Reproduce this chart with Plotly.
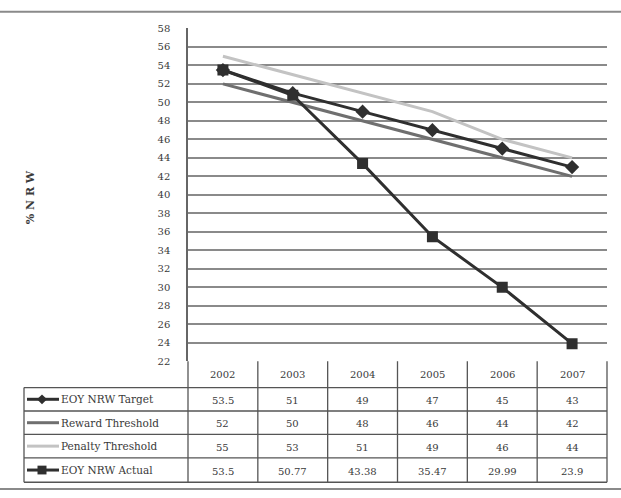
import plotly.graph_objects as go

years = ["2002", "2003", "2004", "2005", "2006", "2007"]
target = [53.5, 51, 49, 47, 45, 43]
reward = [52, 50, 48, 46, 44, 42]
penalty = [55, 53, 51, 49, 46, 44]
actual = [53.5, 50.77, 43.38, 35.47, 29.99, 23.9]
actual_labels = ["53.5", "50.77", "43.38", "35.47", "29.99", "23.9"]
series_names = ["EOY NRW Target", "Reward Threshold", "Penalty Threshold", "EOY NRW Actual"]
y_ticks = list(range(22, 59, 2))

W, H = 621, 498
FONT = "DejaVu Serif"
GRID = "#8a8a8a"
TXT = "#3a3a3a"

c_target = "#2f2f2f"
c_reward = "#6f6f6f"
c_penalty = "#c3c3c3"
c_actual = "#2f2f2f"

def px(x):
    return x / W

def py(y):
    return 1 - y / H

plot_l, plot_r = 188, 607
plot_t, plot_b = 23, 364
row_edges = [364, 391, 415, 439, 463, 488]
label_l = 24

fig = go.Figure()
fig.add_trace(go.Scatter(x=years, y=target, name=series_names[0], mode="lines+markers",
                         line=dict(color=c_target, width=3),
                         marker=dict(symbol="diamond", size=11, color=c_target)))
fig.add_trace(go.Scatter(x=years, y=reward, name=series_names[1], mode="lines",
                         line=dict(color=c_reward, width=3)))
fig.add_trace(go.Scatter(x=years, y=penalty, name=series_names[2], mode="lines",
                         line=dict(color=c_penalty, width=3)))
fig.add_trace(go.Scatter(x=years, y=actual, name=series_names[3], mode="lines+markers",
                         line=dict(color=c_actual, width=3),
                         marker=dict(symbol="square", size=11, color=c_actual)))

key_x = 42
key_rows = [(row_edges[i + 1] + row_edges[i + 2]) / 2 for i in range(4)]

shapes = []
shapes.append(dict(type="line", xref="paper", yref="paper", x0=0, x1=1, y0=py(6), y1=py(6),
                   line=dict(color=GRID, width=2)))
shapes.append(dict(type="line", xref="paper", yref="paper", x0=0, x1=1, y0=py(495), y1=py(495),
                   line=dict(color=GRID, width=2)))

ncol = len(years)
colw = (plot_r - plot_l) / ncol
tl = dict(color="#555555", width=1.3)
for i, ry in enumerate(row_edges):
    if i == 0:
        continue
    shapes.append(dict(type="line", xref="paper", yref="paper", x0=px(label_l), x1=px(plot_r),
                       y0=py(ry), y1=py(ry), line=tl))
for k in range(ncol + 1):
    xx = plot_l + k * colw
    shapes.append(dict(type="line", xref="paper", yref="paper", x0=px(xx), x1=px(xx),
                       y0=py(row_edges[0]), y1=py(row_edges[-1]), line=tl))
shapes.append(dict(type="line", xref="paper", yref="paper", x0=px(label_l), x1=px(label_l),
                   y0=py(row_edges[1]), y1=py(row_edges[-1]), line=tl))
key_colors = [c_target, c_reward, c_penalty, c_actual]
for i, kc in enumerate(key_colors):
    yy = key_rows[i]
    shapes.append(dict(type="line", xref="paper", yref="paper", x0=px(27), x1=px(59),
                       y0=py(yy), y1=py(yy), line=dict(color=kc, width=3)))
d = 5
yy = key_rows[0]
shapes.append(dict(type="path", xref="paper", yref="paper",
                   path=f"M {px(key_x - d)} {py(yy)} L {px(key_x)} {py(yy - d)} L {px(key_x + d)} {py(yy)} L {px(key_x)} {py(yy + d)} Z",
                   fillcolor=c_target, line=dict(width=0)))
yy = key_rows[3]
s = 4.5
shapes.append(dict(type="rect", xref="paper", yref="paper",
                   x0=px(key_x - s), x1=px(key_x + s), y0=py(yy + s), y1=py(yy - s),
                   fillcolor=c_actual, line=dict(width=0)))

annotations = []
for k, yr in enumerate(years):
    cx = plot_l + (k + 0.5) * colw
    annotations.append(dict(x=px(cx), y=py((row_edges[0] + row_edges[1]) / 2), xref="paper", yref="paper",
                            xanchor="center", yanchor="middle",
                            text=yr, showarrow=False, font=dict(family=FONT, size=10, color=TXT)))
values = [[f"{v:g}" for v in target], [f"{v:g}" for v in reward], [f"{v:g}" for v in penalty], actual_labels]
for i, name in enumerate(series_names):
    yy = key_rows[i]
    annotations.append(dict(x=px(59), y=py(yy), xref="paper", yref="paper", xanchor="left", yanchor="middle",
                            text=name, showarrow=False, font=dict(family=FONT, size=10.5, color=TXT)))
    for k in range(ncol):
        cx = plot_l + (k + 0.5) * colw
        annotations.append(dict(x=px(cx), y=py(yy + 1), xref="paper", yref="paper",
                                xanchor="center", yanchor="middle",
                                text=values[i][k], showarrow=False, font=dict(family=FONT, size=10, color=TXT)))
annotations.append(dict(x=px(30), y=py(196), xref="paper", yref="paper", text="<b>% N R W</b>",
                        xanchor="center", yanchor="middle",
                        textangle=-90, showarrow=False, font=dict(family=FONT, size=11, color=TXT)))

fig.update_layout(
    width=W, height=H,
    margin=dict(l=0, r=0, t=0, b=0),
    paper_bgcolor="white", plot_bgcolor="white",
    showlegend=False,
    shapes=shapes,
    annotations=annotations,
    xaxis=dict(domain=[px(plot_l), px(plot_r)], type="category", range=[-0.5, 5.5],
               showticklabels=False, showgrid=False, zeroline=False, showline=False, ticks=""),
    yaxis=dict(domain=[py(plot_b), py(plot_t)], range=[22, 58], tickvals=y_ticks,
               showgrid=True, gridcolor=GRID, gridwidth=1.5, zeroline=False,
               showline=True, linecolor="#666666", linewidth=1.5, ticks="",
               ticklabelstandoff=14,
               tickfont=dict(family=FONT, size=10, color=TXT)),
)
fig.write_html("out.html")
